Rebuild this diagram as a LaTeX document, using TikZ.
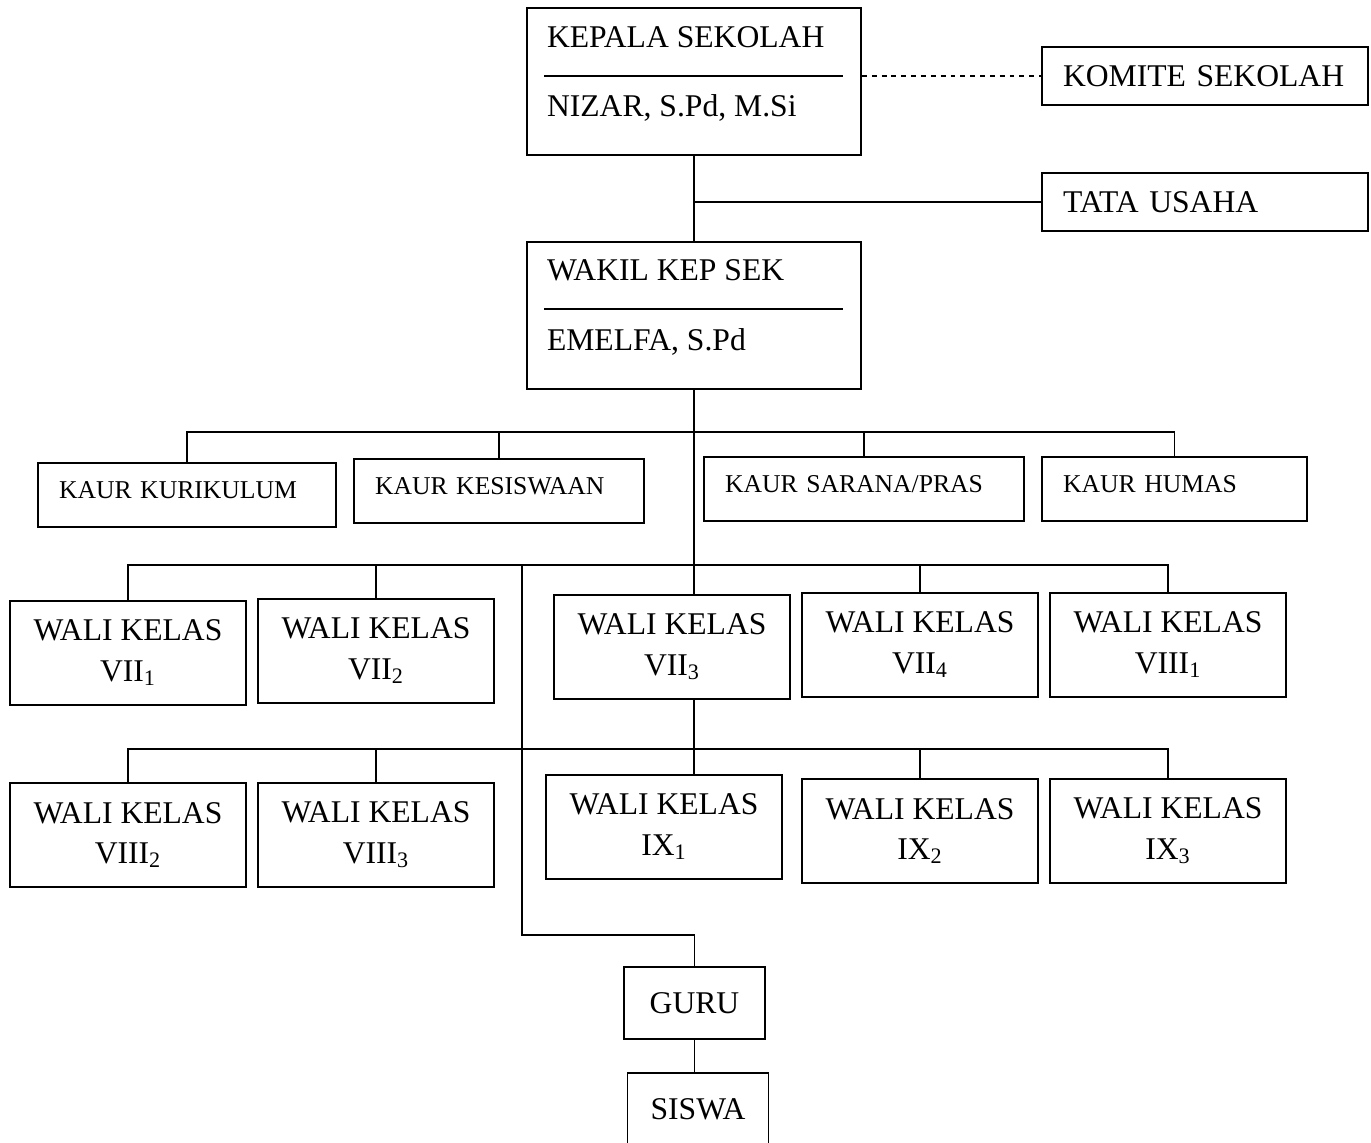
\documentclass[tikz,border=0pt]{standalone}
\usepackage{fontspec}
\setmainfont{Liberation Serif}
\usepackage{tikz}
\usetikzlibrary{positioning,calc}

\begin{document}
\begin{tikzpicture}[x=0.02cm,y=-0.02cm,line width=1.1pt,
    bigtext/.style={font=\fontsize{18}{23}\selectfont},
    headbox/.style={draw,minimum width=6.68cm,minimum height=2.94cm,inner sep=0pt},
    headtext/.style={bigtext,anchor=base west,inner sep=0pt},
    sidebox/.style={draw,bigtext,text width=5.68cm,inner xsep=0.42cm,minimum height=1.16cm,align=left},
    kaurbox/.style={draw,font=\fontsize{14.6}{18}\selectfont,text width=#1,inner xsep=0.42cm,
      text height=0.34cm,text depth=0.22cm,minimum height=1.28cm,align=left},
    walibox/.style={draw,bigtext,minimum width=4.72cm,minimum height=2.08cm,align=center,inner sep=0pt},
    smallbox/.style={draw,bigtext,minimum width=2.82cm,minimum height=1.44cm,inner sep=0pt}]
        \useasboundingbox (0,0) rectangle (1371,1142);
        % Head and deputy
        \node[headbox] (kepala) at (694,81.5) {};
        \node[headtext] (kepalaT) at ($(kepala.north west)+(20,40)$) {KEPALA SEKOLAH};
        \node[headtext] (kepalaN) at ($(kepala.north west)+(20,109)$) {NIZAR, S.Pd, M.Si};
        \draw ($(kepala.north west)+(18,69)$) -- ($(kepala.north east)+(-19,69)$);
        \node[headbox] (wakil) at (694,315.5) {};
        \node[headtext] (wakilT) at ($(wakil.north west)+(20,39)$) {WAKIL KEP SEK};
        \node[headtext] (wakilN) at ($(wakil.north west)+(20,109)$) {EMELFA, S.Pd};
        \draw ($(wakil.north west)+(18,68)$) -- ($(wakil.north east)+(-19,68)$);
        % Committee and administration
        \node[sidebox] (komite) at (1205,76) {KOMITE SEKOLAH};
        \node[sidebox] (tata) at (1205,202) {TATA USAHA};
        % Kaur row
        \node[kaurbox=5.12cm] (kur) at (187,495) {KAUR KURIKULUM};
        \node[kaurbox=4.96cm] (kes) at (499,491) {KAUR KESISWAAN};
        \node[kaurbox=5.56cm] (sar) at (864,489) {KAUR SARANA/PRAS};
        \node[kaurbox=4.46cm] (hum) at (1174.5,489) {KAUR HUMAS};
        % Wali kelas, first row
        \node[walibox] (vii1) at (128,653) {WALI KELAS\\VII\textsubscript{1}};
        \node[walibox] (vii2) at (376,651) {WALI KELAS\\VII\textsubscript{2}};
        \node[walibox] (vii3) at (672,647) {WALI KELAS\\VII\textsubscript{3}};
        \node[walibox] (vii4) at (920,645) {WALI KELAS\\VII\textsubscript{4}};
        \node[walibox] (viii1) at (1168,645) {WALI KELAS\\VIII\textsubscript{1}};
        % Wali kelas, second row
        \node[walibox] (viii2) at (128,835) {WALI KELAS\\VIII\textsubscript{2}};
        \node[walibox] (viii3) at (376,835) {WALI KELAS\\VIII\textsubscript{3}};
        \node[walibox] (ix1) at (664,827) {WALI KELAS\\IX\textsubscript{1}};
        \node[walibox] (ix2) at (920,831) {WALI KELAS\\IX\textsubscript{2}};
        \node[walibox] (ix3) at (1168,831) {WALI KELAS\\IX\textsubscript{3}};
        % Guru and siswa
        \node[smallbox] (guru) at (694.5,1003) {GURU};
        \node[smallbox] (siswa) at (698,1109) {SISWA};
        % Bars
        \coordinate (kbar) at (693,432);
        \coordinate (wbar1) at (693,565);
        \coordinate (wbar2) at (693,749);
        \coordinate (gbranch) at (522,565);
        \coordinate (gturn) at (522,935);
        % Lines
        \draw (kepala) -- (wakil);
        \draw[dash pattern=on 2.8pt off 2.8pt] (kepala.east |- komite.west) -- (komite.west);
        \draw (tata.west -| kepala.south) -- (tata.west);
        \draw (wakil.south) -- (wakil.south |- vii3.north);
        \draw (kur.north) |- (kbar) -| (hum.north);
        \draw (kes.north) -- (kes.north |- kbar);
        \draw (sar.north) -- (sar.north |- kbar);
        \draw (vii1.north) |- (wbar1) -| (viii1.north);
        \draw (vii2.north) -- (vii2.north |- wbar1);
        \draw (vii4.north) -- (vii4.north |- wbar1);
        \draw (vii3.south -| wakil.south) -- (ix1.north -| wakil.south);
        \draw (viii2.north) |- (wbar2) -| (ix3.north);
        \draw (viii3.north) -- (viii3.north |- wbar2);
        \draw (ix2.north) -- (ix2.north |- wbar2);
        \draw (gbranch) -- (gturn) -| (guru.north);
        \draw (guru.south) -- (guru.south |- siswa.north);
\end{tikzpicture}
\end{document}
